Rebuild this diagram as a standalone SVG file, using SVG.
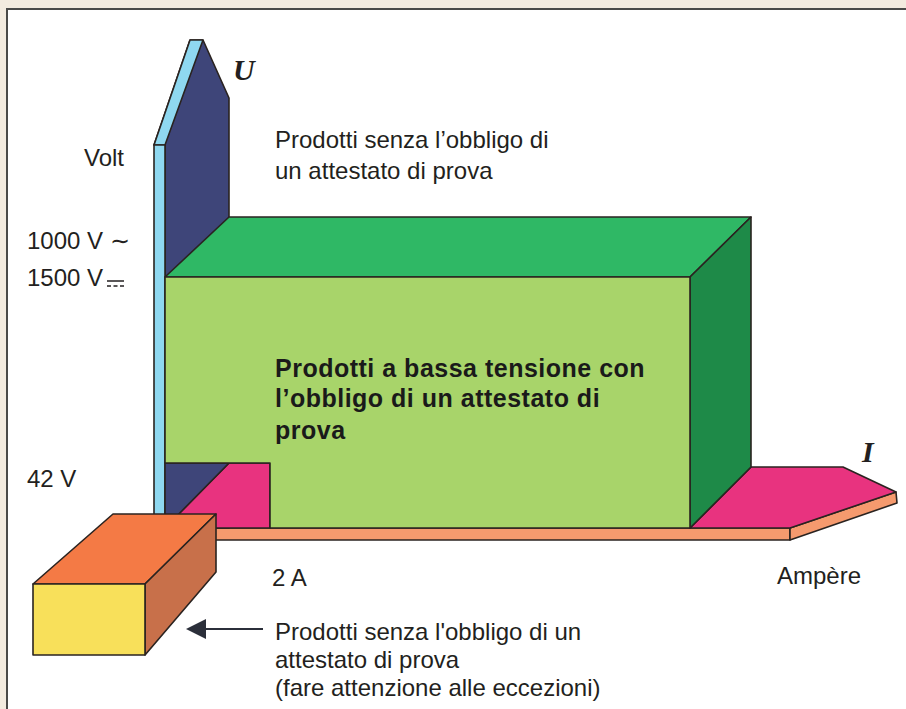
<svg xmlns="http://www.w3.org/2000/svg" width="906" height="709" viewBox="0 0 906 709">
<defs>
<style>
.o{stroke:#2a2320;stroke-width:1.6;stroke-linejoin:round}
.t{font-family:"Liberation Sans",Arial,sans-serif;font-size:24px;fill:#231f20}
.b{font-family:"Liberation Sans",Arial,sans-serif;font-size:25px;font-weight:bold;letter-spacing:0.5px;fill:#1a1a1a}
.ax{font-family:"Liberation Serif","Times New Roman",serif;font-size:30px;font-weight:bold;font-style:italic;fill:#231f20}
</style>
<marker id="ah" viewBox="0 0 20 20" refX="2" refY="10" markerWidth="20" markerHeight="20" markerUnits="userSpaceOnUse" orient="auto">
<path d="M20,0 L0,10 L20,20 Z" fill="#2b2f3a"/>
</marker>
</defs>
<rect x="0" y="0" width="906" height="709" fill="#f3ebdf"/>
<rect x="7" y="9" width="905" height="710" fill="#ffffff" stroke="#4a4a48" stroke-width="2"/>

<g id="floor">
<polygon class="o" points="165,528 790,528 790,540 165,540" fill="#f59a6e"/>
<polygon class="o" points="790,528 896,492 897,503 790,540" fill="#f59a6e"/>
<polygon class="o" points="690,528 751,467 843,467 896,492 790,528" fill="#e8337f"/>
</g>

<g id="u-axis">
<polygon class="o" points="154,145 190,40 203,40 229,98 229,528 165,528 165,145" fill="#3e4579"/>
<polygon class="o" points="154,145 190,40 203,40 165,145" fill="#8fd8f0"/>
<polygon class="o" points="154,145 165,145 165,540 154,540" fill="#8fd8f0"/>
</g>

<g id="low-corner">
<polygon class="o" points="229,463 270,463 270,528 165,528" fill="#e8337f"/>
<polygon class="o" points="165,463 229,463 165,528" fill="#3e4579"/>
</g>

<g id="green-box">
<polygon class="o" points="165,277 229,217 751,217 690,277" fill="#2fb865"/>
<polygon class="o" points="690,277 751,217 751,467 690,528" fill="#1e8a48"/>
<polygon class="o" points="165,277 690,277 690,528 270,528 270,463 165,463" fill="#a8d46a"/>
<text class="b" x="275" y="377">Prodotti a bassa tensione con</text>
<text class="b" x="275" y="407">l’obbligo di un attestato di</text>
<text class="b" x="275" y="439">prova</text>
</g>

<g id="small-box">
<polygon class="o" points="33,584 113,514 216,514 145,584" fill="#f47a45"/>
<polygon class="o" points="145,584 216,514 216,572 145,655" fill="#c8704a"/>
<rect class="o" x="33" y="584" width="112" height="71" fill="#f8e05a"/>
</g>

<g id="connectors">
<line x1="188" y1="629" x2="263" y2="629" stroke="#2b2f3a" stroke-width="2" marker-start="url(#ah)"/>
</g>

<g id="labels">
<text class="ax" x="233" y="80">U</text>
<text class="ax" x="862" y="462">I</text>
<text class="t" x="84" y="166">Volt</text>
<text class="t" x="27" y="249">1000 V ∼</text>
<text class="t" x="27" y="286">1500 V</text>
<g stroke="#231f20" stroke-width="1.5">
<line x1="107" y1="281" x2="124" y2="281"/>
<line x1="107" y1="286" x2="111" y2="286"/>
<line x1="113.5" y1="286" x2="117.5" y2="286"/>
<line x1="120" y1="286" x2="124" y2="286"/>
</g>
<text class="t" x="27" y="487">42 V</text>
<text class="t" x="272" y="586">2 A</text>
<text class="t" x="777" y="584">Ampère</text>
<text class="t" x="275" y="148">Prodotti senza l’obbligo di</text>
<text class="t" x="275" y="179">un attestato di prova</text>
<text class="t" x="275" y="640">Prodotti senza l'obbligo di un</text>
<text class="t" x="275" y="668">attestato di prova</text>
<text class="t" x="275" y="696">(fare attenzione alle eccezioni)</text>
</g>
</svg>
